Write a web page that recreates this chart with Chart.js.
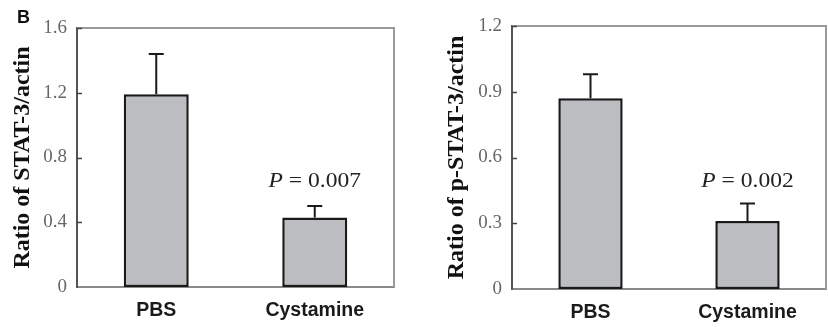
<!DOCTYPE html>
<html>
<head>
<meta charset="utf-8">
<script src="https://cdn.jsdelivr.net/npm/chart.js@4"></script>
<style>
  body { margin: 0; background: #fff; }
  #painel { position: relative; width: 828px; height: 327px; }
  canvas { position: absolute; top: 0; }
  #letra { position: absolute; left: 17px; top: 7px; font: bold 18px "Liberation Sans", Arial, sans-serif; color: #111; }
</style>
</head>
<body>
<div id="painel">
  <canvas id="graficoStat3" width="414" height="327" style="left:0"></canvas>
  <canvas id="graficoPStat3" width="414" height="327" style="left:414px"></canvas>
  <div id="letra">B</div>
</div>
<script>
// dados
const categorias = ["PBS", "Cystamine"];

const mediaStat3 = [1.19, 0.43];
const erroStat3 = [0.25, 0.07];
const eixoStat3 = [0, 1.6, 0.4]; // min, max, passo
const pStat3 = "0.007";

const mediaPStat3 = [0.87, 0.31];
const erroPStat3 = [0.11, 0.08];
const eixoPStat3 = [0, 1.2, 0.3];
const pPStat3 = "0.002";

// barras de erro, ticks internos, moldura e o texto do P
const extrasPlugin = {
    id: "extras",
    afterDatasetsDraw(chart, args, opts) {
        const ctx = chart.ctx;
        const area = chart.chartArea;
        const x = chart.scales.x;
        const y = chart.scales.y;

        ctx.save();
        // moldura cinza em cima e à direita
        ctx.strokeStyle = "#9a9a9a";
        ctx.lineWidth = 2;
        ctx.beginPath();
        ctx.moveTo(area.left, area.top);
        ctx.lineTo(area.right, area.top);
        ctx.lineTo(area.right, area.bottom);
        ctx.stroke();

        // ticks para dentro
        ctx.strokeStyle = "#444";
        ctx.lineWidth = 1.5;
        y.ticks.forEach(t => {
            if (t.value === 0) return;
            let py = Math.round(y.getPixelForValue(t.value)) + 0.5;
            ctx.beginPath();
            ctx.moveTo(area.left, py);
            ctx.lineTo(area.left + 5, py);
            ctx.stroke();
        });

        // barras de erro (só para cima)
        ctx.strokeStyle = "#1a1a1a";
        ctx.lineWidth = 2;
        opts.medias.forEach((m, i) => {
            let px = x.getPixelForValue(i);
            let yBase = y.getPixelForValue(m);
            let yTopo = y.getPixelForValue(m + opts.erros[i]);
            ctx.beginPath();
            ctx.moveTo(px, yBase);
            ctx.lineTo(px, yTopo);
            ctx.moveTo(px - 7.5, yTopo);
            ctx.lineTo(px + 7.5, yTopo);
            ctx.stroke();
        });

        // P = ...
        let cx = x.getPixelForValue(1);
        ctx.translate(cx, 181);
        ctx.scale(1.12, 1);
        ctx.fillStyle = "#222";
        ctx.textBaseline = "middle";
        ctx.textAlign = "left";
        let resto = " = " + opts.p;
        ctx.font = "21px 'Liberation Serif', serif";
        let largResto = ctx.measureText(resto).width;
        ctx.font = "italic 21px 'Liberation Serif', serif";
        let largP = ctx.measureText("P").width;
        let inicio = -(largP + largResto) / 2;
        ctx.fillText("P", inicio, 0);
        ctx.font = "21px 'Liberation Serif', serif";
        ctx.fillText(resto, inicio + largP, 0);
        ctx.restore();
    }
};

function criarGrafico(idCanvas, medias, erros, eixo, p, titulo, larguraEixo, topo, alturaX, dirDir, padTitulo) {
    const ctx = document.getElementById(idCanvas).getContext("2d");
    return new Chart(ctx, {
        type: "bar",
        data: {
            labels: categorias,
            datasets: [{
                data: medias,
                backgroundColor: "#bcbdc1",
                borderColor: "#1a1a1a",
                borderWidth: 2.5,
                borderSkipped: false,
                categoryPercentage: 1,
                barPercentage: 0.41
            }]
        },
        options: {
            responsive: false,
            animation: false,
            devicePixelRatio: 1,
            layout: { padding: { top: topo, right: dirDir, left: 0, bottom: 0 } },
            plugins: {
                legend: { display: false },
                tooltip: { enabled: false },
                extras: { medias: medias, erros: erros, p: p }
            },
            scales: {
                x: {
                    grid: { display: false, drawTicks: false },
                    border: { color: "#8a8a8a", width: 2 },
                    ticks: {
                        color: "#1a1a1a",
                        padding: 12,
                        font: { family: "'Liberation Sans', Arial, sans-serif", size: 19.5, weight: "bold" }
                    },
                    afterFit: s => { s.height = alturaX; }
                },
                y: {
                    min: eixo[0],
                    max: eixo[1],
                    grid: { display: false, drawTicks: false },
                    border: { color: "#555", width: 2 },
                    ticks: {
                        stepSize: eixo[2],
                        color: "#666",
                        padding: 10,
                        font: { family: "'Liberation Serif', serif", size: 19 },
                        callback: v => v === 0 ? "0" : v.toFixed(1)
                    },
                    title: {
                        display: true,
                        text: titulo,
                        color: "#111",
                        padding: { top: padTitulo, bottom: 0 },
                        font: { family: "'Liberation Serif', serif", size: 24, weight: "bold" }
                    },
                    afterFit: s => { s.width = larguraEixo; }
                }
            }
        },
        plugins: [extrasPlugin]
    });
}

criarGrafico("graficoStat3", mediaStat3, erroStat3, eixoStat3, pStat3,
    "Ratio of STAT-3/actin", 77, 28, 40, 20, 8);
criarGrafico("graficoPStat3", mediaPStat3, erroPStat3, eixoPStat3, pPStat3,
    "Ratio of p-STAT-3/actin", 98, 26, 38, 2, 28);
</script>
</body>
</html>
